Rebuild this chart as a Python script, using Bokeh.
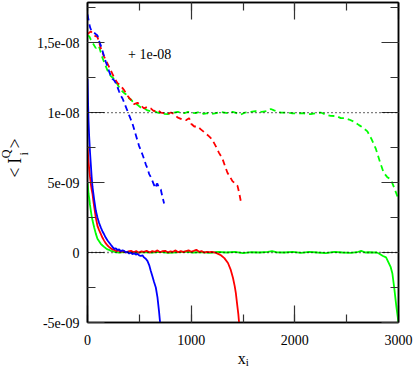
import numpy as np
from bokeh.plotting import figure
from bokeh.layouts import column, row
from bokeh.core.properties import value
from bokeh.models import (Range1d, FixedTicker, LinearAxis, CustomJSTickFormatter,
                          Span, Label, ColumnDataSource)
from bokeh.embed import file_html
from bokeh.resources import INLINE

# ---------------- data (y values in units of 1e-9) ----------------
UNIT = 1e-9

green_solid = [(0, 5.0), (5, 4.6), (10, 4.2), (16, 3.9), (24, 3.4), (32, 3.0), (40, 2.6), (48, 2.3),
               (56, 2.05), (64, 1.8), (80, 1.35), (96, 0.98), (112, 0.8), (128, 0.62), (145, 0.5),
               (160, 0.4), (177, 0.3), (193, 0.22), (208, 0.19), (225, 0.12), (241, 0.1), (260, 0.05),
               (300, 0.0), (380, 0.05), (460, -0.02), (540, 0.03), (620, 0.0), (700, 0.05), (780, -0.03),
               (860, 0.02), (940, 0.06), (1020, 0.0), (1100, 0.03), (1180, -0.02), (1260, 0.04),
               (1340, 0.0), (1420, 0.05), (1500, -0.05), (1580, 0.02), (1660, 0.0), (1740, 0.05),
               (1780, 0.1), (1820, 0.02), (1900, 0.0), (1980, 0.04), (2060, -0.02), (2140, 0.05),
               (2220, 0.0), (2300, -0.04), (2380, 0.05), (2460, 0.0), (2540, -0.03), (2600, 0.02),
               (2640, 0.12), (2680, 0.0), (2720, 0.02), (2760, 0.0), (2790, 0.0), (2811, -0.07),
               (2850, -0.25), (2880, -0.35), (2925, -1.05), (2941, -1.5), (2960, -2.6), (2980, -3.9),
               (3000, -5.0)]

red_solid = [(0, 7.6), (5, 7.0), (10, 6.5), (16, 6.0), (24, 5.4), (32, 4.9), (40, 4.5), (48, 4.2),
             (56, 3.7), (64, 3.3), (80, 2.5), (96, 1.9), (112, 1.6), (128, 1.33), (145, 1.05),
             (160, 0.85), (177, 0.65), (193, 0.5), (210, 0.38), (225, 0.3), (241, 0.22), (257, 0.19),
             (280, 0.1), (300, 0.15), (320, 0.05), (345, 0.1), (370, 0.0), (395, 0.08), (420, 0.12),
             (445, 0.02), (470, 0.1), (495, -0.02), (520, 0.08), (545, 0.05), (570, 0.12), (600, 0.0),
             (625, 0.1), (650, 0.05), (675, 0.15), (700, 0.02), (725, 0.1), (750, 0.12), (775, 0.0),
             (800, 0.08), (825, 0.05), (850, 0.15), (875, 0.02), (900, 0.1), (925, 0.03), (950, 0.1),
             (975, 0.15), (1000, 0.05), (1025, 0.12), (1050, 0.2), (1075, 0.05), (1100, 0.1),
             (1125, 0.0), (1150, 0.05), (1175, 0.02), (1200, 0.05), (1230, 0.0), (1260, -0.1),
             (1287, -0.2), (1320, -0.4), (1355, -0.75), (1380, -1.2), (1403, -1.8), (1420, -2.4),
             (1431, -2.9), (1445, -3.8), (1455, -4.4), (1462, -5.0)]

blue_solid = [(0, 12.4), (5, 10.8), (10, 9.4), (16, 8.3), (24, 7.2), (32, 6.3), (40, 5.4), (48, 4.7),
              (64, 3.8), (80, 3.0), (96, 2.5), (112, 2.1), (128, 1.8), (145, 1.5), (160, 1.3),
              (177, 1.05), (193, 0.86), (210, 0.7), (225, 0.55), (241, 0.4), (257, 0.26), (273, 0.3),
              (290, 0.18), (305, 0.22), (321, 0.1), (338, 0.15), (353, 0.12), (370, 0.0), (386, 0.05),
              (402, -0.08), (418, 0.0), (434, -0.12), (450, -0.05), (466, -0.15), (482, -0.1),
              (498, -0.2), (515, -0.25), (530, -0.2), (545, -0.35), (562, -0.45), (578, -0.6),
              (595, -0.9), (610, -1.3), (626, -1.7), (642, -2.1), (659, -2.5), (675, -3.2),
              (690, -4.2), (700, -5.0)]

green_dashed = [(0, 15.5), (16, 15.45), (32, 15.2), (48, 15.0), (64, 14.8), (80, 14.6), (96, 14.75),
                (112, 14.7), (128, 14.3), (145, 13.9), (160, 13.6), (177, 13.3), (193, 13.0),
                (210, 12.8), (225, 12.6), (241, 12.5), (257, 12.4), (273, 12.2), (290, 12.0),
                (305, 11.8), (321, 11.65), (338, 11.5), (353, 11.4), (370, 11.3), (386, 11.1),
                (402, 11.0), (418, 10.95), (434, 10.8), (450, 10.7), (482, 10.55), (514, 10.36),
                (545, 10.3), (579, 10.15), (610, 10.1), (643, 10.1), (675, 10.0), (707, 9.95),
                (740, 9.9), (771, 9.88), (805, 9.95), (835, 10.0), (868, 10.05), (900, 10.0),
                (935, 9.95), (970, 10.05), (1000, 10.0), (1040, 9.95), (1080, 10.05), (1120, 9.9),
                (1160, 9.95), (1200, 9.9), (1240, 9.95), (1280, 10.05), (1320, 10.0), (1360, 9.95),
                (1400, 10.05), (1440, 9.95), (1478, 9.85), (1520, 10.0), (1575, 10.05), (1620, 10.1),
                (1680, 10.05), (1730, 10.1), (1768, 10.25), (1800, 10.15), (1864, 10.0), (1920, 10.0),
                (1970, 9.95), (2025, 9.93), (2080, 9.95), (2153, 9.88), (2200, 9.95), (2250, 10.0),
                (2300, 9.85), (2346, 9.76), (2400, 9.75), (2443, 9.6), (2480, 9.6), (2523, 9.5),
                (2570, 9.35), (2619, 9.1), (2660, 8.9), (2700, 8.65), (2740, 8.1), (2782, 7.4),
                (2820, 6.5), (2857, 5.7), (2890, 5.4), (2927, 5.2), (2960, 4.6), (2990, 4.0),
                (3000, 3.8)]

red_dashed = [(0, 15.6), (32, 15.8), (64, 15.5), (96, 15.4), (128, 14.6), (160, 14.0), (193, 13.5),
              (225, 13.0), (257, 12.5), (290, 12.1), (321, 11.9), (353, 11.6), (386, 11.2),
              (418, 10.9), (450, 10.6), (482, 10.7), (514, 10.5), (545, 10.3), (579, 10.4),
              (610, 10.3), (640, 10.1), (675, 10.2), (707, 10.0), (740, 9.95), (772, 9.9),
              (805, 10.0), (835, 9.9), (868, 9.65), (900, 9.55), (916, 9.5), (950, 9.45), (980, 9.6),
              (1000, 9.2), (1030, 9.0), (1061, 9.0), (1093, 8.8), (1125, 8.6), (1150, 8.45),
              (1173, 8.3), (1200, 8.1), (1237, 7.6), (1270, 7.1), (1302, 6.7), (1330, 6.1),
              (1350, 5.7), (1375, 5.4), (1398, 5.1), (1420, 4.95), (1447, 4.76), (1462, 4.3),
              (1478, 3.7)]

blue_dashed = [(0, 17.0), (8, 16.7), (16, 16.4), (24, 16.1), (32, 15.95), (48, 15.8), (64, 15.7),
               (80, 15.6), (96, 15.5), (112, 15.1), (128, 14.8), (145, 14.4), (160, 14.0),
               (177, 13.6), (193, 13.3), (210, 12.9), (225, 12.6), (241, 12.4), (257, 12.3),
               (273, 12.1), (290, 11.8), (305, 11.5), (321, 11.2), (338, 11.0), (354, 10.7),
               (370, 10.4), (386, 10.1), (402, 9.8), (418, 9.5), (434, 9.2), (450, 8.8), (466, 8.4),
               (482, 8.0), (498, 7.6), (515, 7.3), (530, 7.0), (545, 6.7), (562, 6.3), (579, 6.0),
               (595, 5.6), (610, 5.4), (627, 5.1), (643, 4.8), (659, 4.6), (667, 4.9), (675, 4.9),
               (690, 4.6), (707, 4.5), (722, 4.0), (739, 3.5)]

reference_levels = [0.0, 1e-8]
shift_text = "+ 1e-08"

x_tick_values = [0, 1000, 2000, 3000]
x_tick_labels = ["0", "1000", "2000", "3000"]
x_minor_ticks = [0, 500, 1000, 1500, 2000, 2500, 3000]
y_tick_values = [-5e-9, 0.0, 5e-9, 1e-8, 1.5e-8]
y_tick_labels = ["-5e-09", "0", "5e-09", "1e-08", "1,5e-08"]
y_minor_ticks = [-5e-9, -2.5e-9, 0.0, 2.5e-9, 5e-9, 7.5e-9, 1e-8, 1.25e-8, 1.5e-8, 1.75e-8]

# ---------------- geometry / style ----------------
FONT = "Liberation Serif"
X_RANGE = (0, 3000)
Y_RANGE = (-5e-9, 1.786e-8)
TOTAL_W, TOTAL_H = 415, 366
YLAB_W = 30            # strip left of the plot holding the y title
XLAB_H = 15            # strip below the plot holding the x title
FRAME_L, FRAME_R = 87, 398     # frame edges in page pixels
BORDER_TOP = 2
PLOT_H = TOTAL_H - XLAB_H
BORDER_BOTTOM = 29

x_range = Range1d(*X_RANGE)
y_range = Range1d(*Y_RANGE)

p = figure(width=TOTAL_W - YLAB_W, height=PLOT_H, output_backend="svg", toolbar_location=None,
           x_range=x_range, y_range=y_range,
           min_border_left=FRAME_L - YLAB_W, min_border_right=TOTAL_W - FRAME_R,
           min_border_top=BORDER_TOP, min_border_bottom=BORDER_BOTTOM,
           background_fill_color="white", border_fill_color="white")
p.grid.visible = False
p.outline_line_color = "black"
p.outline_line_width = 1.5
p.outline_line_alpha = 1.0


def make_formatter(vals, labs):
    return CustomJSTickFormatter(args=dict(vals=vals, labs=labs), code="""
        for (let k = 0; k < vals.length; k++) {
            if (Math.abs(tick - vals[k]) <= Math.abs(vals[k]) * 1e-6 + 1e-15) { return labs[k]; }
        }
        return "";
    """)


def style_axis(ax, ticks, minors, labs, show_labels, standoff):
    ax.ticker = FixedTicker(ticks=ticks, minor_ticks=minors)
    ax.axis_line_color = "black"
    ax.axis_line_width = 1.5
    ax.major_tick_in = 17
    ax.major_tick_out = 0
    ax.minor_tick_in = 8
    ax.minor_tick_out = 0
    ax.major_tick_line_color = "#333333"
    ax.minor_tick_line_color = "#333333"
    ax.major_tick_line_width = 1.2
    ax.minor_tick_line_width = 1.2
    ax.major_label_text_font = FONT
    ax.major_label_text_color = "black"
    if show_labels:
        ax.formatter = make_formatter(ticks, labs)
        ax.major_label_text_font_size = "14px"
        ax.major_label_standoff = standoff
    else:
        ax.formatter = make_formatter(ticks, [""] * len(ticks))
        ax.major_label_text_font_size = "1px"
        ax.major_label_standoff = 0


style_axis(p.xaxis[0], x_tick_values, x_minor_ticks, x_tick_labels, True, 12)
style_axis(p.yaxis[0], y_tick_values, y_minor_ticks, y_tick_labels, True, 8)

top_axis = LinearAxis()
right_axis = LinearAxis()
style_axis(top_axis, x_tick_values, x_minor_ticks, x_tick_labels, False, 0)
style_axis(right_axis, y_tick_values, y_minor_ticks, y_tick_labels, False, 0)
p.add_layout(top_axis, "above")
p.add_layout(right_axis, "right")


def src(pairs):
    xs, ys = zip(*pairs)
    return ColumnDataSource(dict(x=list(xs), y=list(np.array(ys) * UNIT)))


LW = 1.8
DASH = "6 4"
p.line("x", "y", source=src(green_solid), line_color="#00ff00", line_width=LW)
p.line("x", "y", source=src(red_solid), line_color="#ff0000", line_width=LW)
p.line("x", "y", source=src(blue_solid), line_color="#0000ff", line_width=LW)
p.line("x", "y", source=src(green_dashed), line_color="#00ff00", line_width=LW, line_dash=DASH)
p.line("x", "y", source=src(red_dashed), line_color="#ff0000", line_width=LW, line_dash=DASH)
p.line("x", "y", source=src(blue_dashed), line_color="#0000ff", line_width=LW, line_dash=DASH)

for lev in reference_levels:
    p.add_layout(Span(location=lev, dimension="width", line_color="black",
                      line_width=1.3, line_dash="1 3"))

p.add_layout(Label(x=600, y=1.414e-8, text=shift_text, text_font=FONT, text_font_size="14px",
                   text_align="center", text_baseline="middle", text_color="black"))

# ---------------- y title strip: <I^Q_i> (rotated) ----------------
ylab = figure(width=YLAB_W, height=PLOT_H, output_backend="svg", toolbar_location=None,
              x_range=Range1d(0, YLAB_W), y_range=y_range,
              x_axis_type=None, y_axis_type=None,
              min_border_left=0, min_border_right=0,
              min_border_top=BORDER_TOP, min_border_bottom=BORDER_BOTTOM,
              outline_line_color=None, background_fill_color="white", border_fill_color="white")
ylab.grid.visible = False
big = dict(x=[14.5, 14.0, 14.5], y=[5.71e-9, 6.55e-9, 7.79e-9], t=["<", "I", ">"])
small = dict(x=[5.5, 23.0], y=[7.05e-9, 7.05e-9], t=["Q", "i"])
ylab.text("x", "y", text="t", source=ColumnDataSource(big), angle=np.pi / 2,
          text_font=value(FONT), text_font_size="18px", text_align="center",
          text_baseline="middle", text_color="black")
ylab.text("x", "y", text="t", source=ColumnDataSource(small), angle=np.pi / 2,
          text_font=value(FONT), text_font_size="12px", text_align="center",
          text_baseline="middle", text_color="black")

# ---------------- x title strip: x_i ----------------
xlab = figure(width=TOTAL_W, height=XLAB_H, output_backend="svg", toolbar_location=None,
              x_range=x_range, y_range=Range1d(0, XLAB_H),
              x_axis_type=None, y_axis_type=None,
              min_border_left=FRAME_L, min_border_right=TOTAL_W - FRAME_R,
              min_border_top=0, min_border_bottom=0,
              outline_line_color=None, background_fill_color="white", border_fill_color="white")
xlab.grid.visible = False
xlab.text(x=[1489], y=[8], text=["x"], text_font=value(FONT), text_font_size="16px",
          text_align="center", text_baseline="alphabetic", text_color="black")
xlab.text(x=[1541], y=[5], text=["i"], text_font=value(FONT), text_font_size="11px",
          text_align="center", text_baseline="alphabetic", text_color="black")

layout = column(row(ylab, p, spacing=0), xlab, spacing=0)

open("out.html", "w").write(file_html(layout, INLINE))
